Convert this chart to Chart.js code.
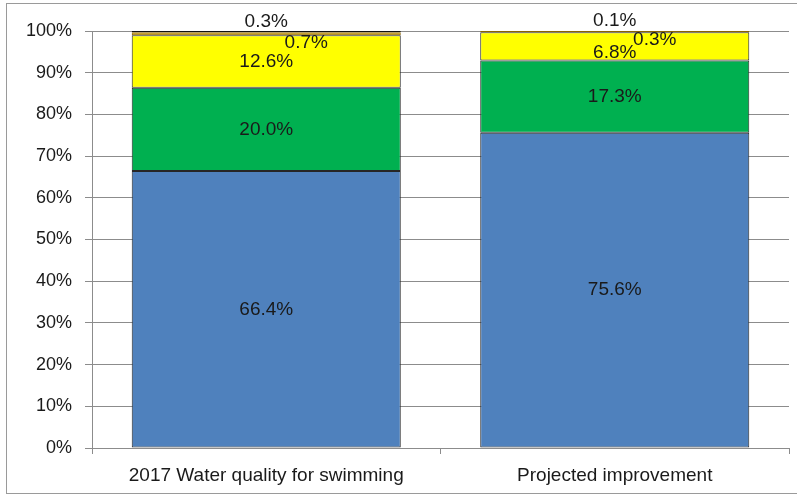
<!DOCTYPE html>
<html><head><meta charset="utf-8">
<script src="https://cdn.jsdelivr.net/npm/chart.js@4/dist/chart.umd.min.js"></script>
<style>
html,body{margin:0;padding:0;background:#fff;overflow:hidden}
#frame{position:absolute;left:6px;top:3px;width:800px;height:491px;border:1px solid #9a9a9a;box-sizing:border-box}
#wrap{position:absolute;left:0;top:0;width:797px;height:497px}
</style></head>
<body>
<div id="frame"></div>
<div id="wrap"><canvas id="c" width="797" height="497"></canvas></div>
<script>
const categories = ["2017 Water quality for swimming", "Projected improvement"];
const seriesBlue   = [66.4, 75.6];
const seriesGreen  = [20.0, 17.3];
const seriesYellow = [12.6, 6.8];
const seriesOrange = [0.7, 0.3];
const seriesBlack  = [0.3, 0.1];
const yTicks = [0,10,20,30,40,50,60,70,80,90,100];

const FONT = "'Liberation Sans', Arial, sans-serif";

const labelOffsets = [
  [[0,0],[0,0]],
  [[0,0],[0,0]],
  [[0,0],[0,6]],
  [[40,9],[40,8]],
  [[0,-10],[0,-10]]
];

const labelPlugin = {
  id: 'segLabels',
  afterDatasetsDraw(chart) {
    const ctx = chart.ctx;
    ctx.save();
    ctx.font = "19px " + FONT;
    ctx.fillStyle = '#1a1a1a';
    ctx.textAlign = 'center';
    ctx.textBaseline = 'middle';
    chart.data.datasets.forEach((ds, di) => {
      const meta = chart.getDatasetMeta(di);
      meta.data.forEach((el, i) => {
        const p = el.getProps(['x','y','base'], true);
        const off = labelOffsets[di][i];
        ctx.fillText(ds.data[i].toFixed(1) + '%', p.x + off[0], (p.y + p.base) / 2 + off[1]);
      });
    });
    ctx.restore();
  }
};

new Chart(document.getElementById('c'), {
  type: 'bar',
  data: {
    labels: categories,
    datasets: [
      {data: seriesBlue,   backgroundColor: '#4F81BD', borderColor: '#262626'},
      {data: seriesGreen,  backgroundColor: '#00B050', borderColor: '#262626'},
      {data: seriesYellow, backgroundColor: '#FFFF00', borderColor: '#262626'},
      {data: seriesOrange, backgroundColor: '#C09000', borderColor: '#8a6500'},
      {data: seriesBlack,  backgroundColor: '#111111', borderColor: '#111111'}
    ].map(d => Object.assign(d, {borderWidth: 1, borderSkipped: false, categoryPercentage: 0.772, barPercentage: 1}))
  },
  options: {
    responsive: false,
    animation: false,
    devicePixelRatio: 1,
    layout: {padding: {top: 31, right: 8, left: 0, bottom: 0}},
    plugins: {legend: {display: false}, tooltip: {enabled: false}},
    scales: {
      x: {
        stacked: true,
        grid: {display: true, drawOnChartArea: false, offset: true, color: '#8c8c8c', tickLength: 6},
        border: {color: '#8c8c8c'},
        ticks: {color: '#1a1a1a', font: {family: FONT, size: 19}, padding: 10},
        afterFit(s) { s.height = 49; }
      },
      y: {
        stacked: true,
        min: 0, max: 100,
        afterBuildTicks(s) { s.ticks = yTicks.map(v => ({value: v})); },
        grid: {color: '#8c8c8c', tickLength: 7},
        border: {color: '#8c8c8c'},
        ticks: {color: '#1a1a1a', font: {family: FONT, size: 18}, padding: 13, callback: v => v + '%'},
        afterFit(s) { s.width = 92; }
      }
    }
  },
  plugins: [labelPlugin]
});
</script>
</body></html>
